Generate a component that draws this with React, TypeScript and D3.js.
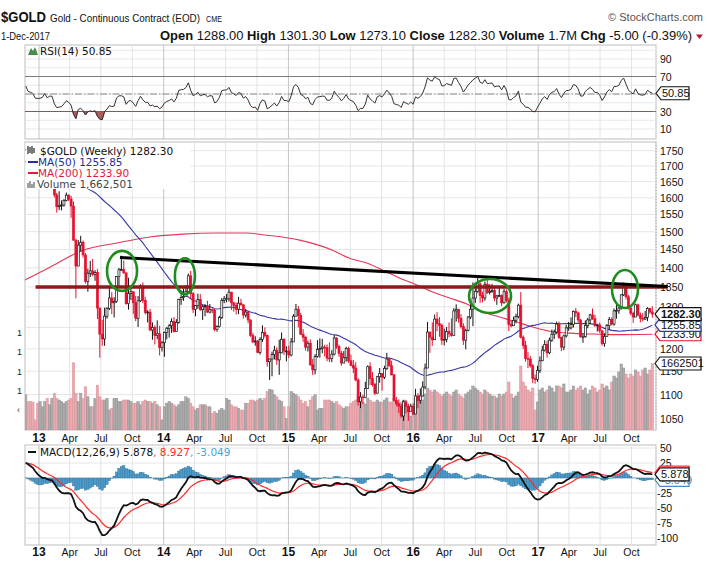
import React from 'react';
import * as d3 from 'd3';

// ---------------- DATA ----------------
// weekly closes before the visible window (Jan-Nov 2012), used only to warm up indicators
const warmupCloses = [1617,1639,1664,1738,1725,1725,1725,1775,1710,1713,1659,1662,1669,1631,1659,1643,1664,1645,1585,1592,1573,1622,1594,1628,1572,1604,1579,1589,1580,1619,1605,1620,1616,1671,1692,1737,1770,1775,1775,1781,1758,1725,1711,1676,1730,1714];

const firstWeek = '2012-11-23';

const closes = [
  1752,1712,1705,1696,1658,1656,
  1657,1662,1687,1657,1667,1667,1609,1573,1576,1578,1592,1608,1596,1575,1476,1405,1462,1470,1435,1364,1386,1392,1383,1388,1297,1234,1223,1277,1296,1322,1310,1313,1377,1395,1396,1387,1308,1333,1338,1310,1272,1315,1352,1316,1286,1287,1244,1250,1231,1235,1203,1214,
  1238,1248,1254,1264,1240,1262,1318,1323,1326,1339,1379,1333,1294,1303,1318,1293,1300,1302,1287,1293,1292,1245,1252,1274,1316,1320,1320,1337,1310,1303,1294,1309,1305,1280,1287,1268,1231,1216,1218,1192,1222,1238,1231,1171,1177,1187,1197,1175,1191,1222,1195,1195,
  1186,1216,1277,1294,1279,1234,1227,1204,1213,1164,1153,1183,1199,1201,1204,1203,1179,1178,1188,1225,1205,1190,1168,1180,1201,1173,1163,1157,1131,1085,1095,1094,1113,1160,1134,1121,1103,1138,1145,1137,1156,1177,1162,1142,1088,1081,1076,1056,1085,1075,1065,1076,
  1060,1097,1088,1097,1116,1157,1239,1227,1221,1270,1259,1255,1220,1222,1240,1235,1231,1290,1294,1272,1252,1220,1243,1275,1294,1322,1339,1358,1328,1322,1357,1336,1339,1341,1322,1327,1328,1310,1338,1316,1257,1254,1267,1276,1304,1227,1208,1178,1177,1162,1134,1132,1152,
  1173,1197,1210,1191,1220,1234,1239,1258,1226,1204,1230,1249,1249,1257,1289,1285,1268,1228,1228,1255,1268,1280,1271,1255,1256,1242,1212,1229,1255,1269,1258,1290,1291,1297,1330,1351,1325,1297,1284,1275,1305,1280,1272,1270,1274,1296,1287.3,1282.3
];

const highs = [
  1755,1755,1723,1724,1700,1671,
  1695,1679,1693,1695,1680,1684,1669,1615,1620,1592,1596,1616,1610,1606,1589,1480,1476,1488,1475,1440,1398,1419,1424,1394,1397,1298,1268,1298,1299,1348,1337,1324,1378,1400,1433,1420,1386,1374,1347,1337,1327,1327,1357,1362,1325,1292,1295,1262,1255,1267,1254,1218,
  1240,1251,1258,1272,1275,1270,1320,1332,1346,1355,1385,1392,1337,1304,1333,1332,1305,1306,1315,1307,1296,1295,1255,1278,1322,1327,1332,1346,1324,1312,1311,1325,1320,1306,1295,1289,1269,1237,1229,1220,1227,1255,1250,1233,1178,1194,1207,1204,1221,1238,1225,1206,
  1207,1225,1282,1307,1302,1285,1246,1229,1219,1222,1177,1188,1220,1224,1223,1209,1210,1215,1197,1232,1227,1210,1196,1195,1205,1205,1187,1175,1170,1135,1105,1100,1127,1163,1170,1148,1125,1140,1157,1143,1162,1191,1180,1173,1144,1095,1090,1081,1088,1089,1081,1081,
  1082,1112,1103,1113,1128,1167,1263,1240,1262,1281,1287,1275,1259,1247,1251,1262,1272,1297,1306,1290,1282,1260,1247,1277,1317,1362,1346,1377,1362,1338,1364,1370,1357,1358,1349,1330,1353,1331,1345,1344,1323,1266,1276,1283,1308,1337,1231,1218,1193,1184,1166,1143,1162,
  1183,1207,1220,1219,1226,1245,1245,1264,1264,1228,1233,1256,1263,1274,1291,1297,1288,1270,1236,1267,1273,1283,1296,1281,1259,1262,1243,1236,1258,1275,1274,1296,1306,1300,1331,1362,1349,1330,1300,1288,1308,1308,1286,1285,1290,1299,1297,1301.3
];

const lows = [
  1712,1705,1684,1690,1636,1649,
  1627,1645,1662,1650,1652,1657,1601,1555,1563,1562,1573,1589,1590,1540,1475,1321,1406,1445,1428,1359,1338,1376,1378,1366,1270,1180,1207,1207,1271,1292,1282,1274,1310,1352,1392,1384,1305,1293,1317,1282,1265,1251,1312,1309,1281,1262,1241,1221,1210,1222,1185,1194,
  1182,1222,1226,1237,1238,1240,1259,1305,1315,1326,1334,1322,1285,1277,1295,1290,1268,1277,1285,1284,1284,1241,1240,1250,1270,1309,1311,1313,1292,1288,1281,1282,1303,1271,1274,1260,1228,1213,1207,1190,1187,1216,1226,1160,1131,1139,1176,1164,1142,1190,1186,1172,
  1179,1183,1218,1277,1250,1232,1216,1196,1194,1162,1142,1143,1180,1180,1190,1183,1172,1170,1170,1185,1200,1182,1162,1170,1171,1168,1161,1146,1128,1077,1072,1080,1094,1112,1120,1117,1099,1102,1125,1108,1133,1153,1160,1141,1085,1076,1062,1052,1046,1061,1046,1065,
  1058,1062,1072,1081,1096,1111,1157,1191,1207,1224,1241,1228,1209,1208,1215,1227,1228,1232,1264,1261,1247,1209,1199,1241,1270,1253,1310,1335,1310,1311,1315,1332,1331,1335,1314,1305,1325,1302,1308,1311,1241,1250,1254,1260,1272,1224,1200,1171,1157,1158,1124,1123,1127,
  1146,1173,1194,1180,1188,1216,1223,1234,1223,1195,1197,1226,1242,1245,1250,1275,1261,1226,1214,1226,1248,1258,1268,1251,1240,1237,1207,1205,1232,1245,1255,1254,1271,1283,1293,1327,1318,1293,1279,1261,1276,1276,1262,1264,1268,1265,1283,1273.1
];

// weekly volume, millions of contracts
const volumes = [
  0.88,0.71,0.71,0.70,0.25,0.67,
  0.71,0.58,0.71,0.79,0.63,0.79,0.92,0.79,0.75,0.71,0.67,0.71,0.75,0.79,1.68,0.92,0.71,0.92,0.79,1.08,0.83,0.58,0.58,0.79,1.12,0.83,0.75,0.75,0.79,0.50,0.54,0.79,0.79,0.71,0.71,0.75,0.75,0.75,0.71,0.67,0.67,0.71,0.63,0.71,0.75,0.71,0.71,0.67,0.71,0.63,0.58,0.25,
  0.58,0.67,0.71,0.67,0.63,0.58,0.63,0.71,0.71,0.83,0.79,0.67,0.58,0.50,0.54,0.63,0.63,0.63,0.58,0.58,0.42,0.46,0.42,0.50,0.54,0.50,0.79,0.75,0.63,0.58,0.58,0.54,0.50,0.50,0.67,0.67,0.75,0.75,0.71,0.75,0.79,0.75,0.79,0.96,1.02,1.00,0.88,0.83,0.75,0.71,0.58,0.29,
  0.58,0.96,0.92,0.88,0.83,0.75,0.67,0.71,0.58,0.75,0.83,0.88,0.50,0.54,0.54,0.75,0.75,0.75,0.71,0.67,0.71,0.63,0.58,0.54,0.58,0.58,0.67,0.71,0.75,0.85,0.80,0.70,0.65,0.80,0.75,0.70,0.70,0.75,0.70,0.70,0.75,0.80,0.70,0.70,0.80,0.70,0.65,0.70,0.75,0.65,0.60,0.35,
  0.40,0.80,0.85,0.80,0.75,0.90,1.05,1.00,0.95,1.00,0.95,0.90,0.85,0.90,0.95,0.90,0.85,0.95,1.00,0.90,0.85,0.80,0.90,0.95,1.00,1.10,1.05,1.00,0.95,0.90,1.00,0.95,0.90,0.85,0.85,0.80,0.90,0.85,0.90,0.95,1.20,0.90,0.80,0.85,0.95,1.60,1.20,1.10,1.00,0.95,1.05,0.50,0.70,
  1.00,1.05,0.95,1.00,1.10,1.05,0.95,1.10,1.10,1.05,1.15,0.95,0.95,1.00,1.10,1.00,1.05,1.10,1.00,1.05,0.90,1.00,1.10,1.05,0.95,1.00,1.15,1.05,1.10,1.00,1.20,1.35,1.30,1.45,1.65,1.55,1.40,1.30,1.40,1.35,1.50,1.45,1.35,1.50,1.55,1.40,1.50,1.66
];

// MA(200)
const ma200Dates = ['2012-11-21','2013-02-02','2013-05-10','2013-08-17','2013-11-22','2014-02-26','2014-06-05','2014-09-01','2014-10-29','2015-02-03','2015-05-10','2015-06-29','2015-08-18','2015-10-04','2015-11-23','2016-01-12','2016-02-27','2016-04-17','2016-06-06','2016-07-23','2016-09-10','2016-10-30','2016-12-16','2017-02-04','2017-03-25','2017-05-11','2017-06-30','2017-08-19','2017-12-01'];
const ma200Values = [1368,1402,1448,1468,1485,1493,1496,1496,1490,1476,1448,1426,1413,1394,1373,1355,1337,1322,1307,1287,1275,1263,1251,1241,1237,1235,1234,1233,1234];

// hand-drawn annotations
const resistanceLevel = 1350;
const resistanceFrom = '2012-12-22';
const resistanceTo = '2018-01-15';
const trendDates = ['2013-08-26', '2018-01-15'];
const trendPrices = [1428, 1351];
const circleDates = ['2013-09-01', '2014-03-04', '2016-08-13', '2017-09-12'];
const circlePrices = [1392, 1378, 1327, 1345];
const circleRx = [15, 10, 21, 13];
const circleRy = [20, 18, 17, 19];

// axes
const priceTicks = [1750,1700,1650,1600,1550,1500,1450,1400,1350,1300,1250,1200,1150,1100,1050];
const priceLabels = [1750,1700,1650,1600,1550,1500,1450,1400,1350,1300,1200,1150,1100,1050];
const rsiTicks = [90,70,30,10];
const macdTicks = [50,25,-25,-50,-75,-100];

// legend / header values
const lastClose = 1282.30, lastMa50 = 1255.85, lastMa200 = 1233.90, lastVolume = 1662501;
const lastRsi = 50.85, lastMacd = 5.878, lastSignal = 8.927, lastHist = -3.049;

// ---------------- HELPERS ----------------
const pd = (s: string) => d3.timeParse('%Y-%m-%d')(s) as Date;

function ema(arr: number[], n: number) {
  const k = 2 / (n + 1);
  let e = arr[0];
  return arr.map((v, i) => (i === 0 ? e : (e = v * k + e * (1 - k))));
}

const L = 25, R = 656;
const RSI_T = 45, RSI_B = 139;
const MAIN_T = 142, MAIN_B = 430;
const MACD_T = 445, MACD_B = 545;

const AX = 'Liberation Sans, Arial, sans-serif';
const LEG = 'DejaVu Sans, Verdana, sans-serif';
const NARROW = 'Liberation Sans Narrow, Arial Narrow, Liberation Sans, sans-serif';

function Tag({ x0, y, text, border, color, w, bold }: any) {
  const h = 6.5;
  return (
    <g>
      <path d={`M${x0},${y}L${x0 + 5},${y - h}L${x0 + w},${y - h}L${x0 + w},${y + h}L${x0 + 5},${y + h}Z`} fill="#fff" stroke={border} strokeWidth={1.2} />
      <text x={x0 + 6} y={y + 4} fontFamily={AX} fontSize={11} fontWeight={bold ? 'bold' : 'normal'} fill={color}>{text}</text>
    </g>
  );
}

export default function App() {
  const n = closes.length;
  const t0 = pd(firstWeek);
  const dates = d3.range(n).map(i => d3.timeDay.offset(t0, 7 * i));
  const x = d3.scaleTime().domain([new Date(2013, 0, 1), new Date(2017, 0, 1)]).range([39, 538.2]);
  const barW = x(new Date(2013, 0, 8)) - x(new Date(2013, 0, 1));

  const yP = d3.scaleLog().domain([1050, 1750]).range([419, 150.7]);
  const yV = d3.scaleLinear().domain([0, 1]).range([MAIN_B, MAIN_B - 40]);
  const yR = d3.scaleLinear().domain([0, 100]).range([137.75, 50.25]);
  const yM = d3.scaleLinear().domain([-100, 50]).range([538, 448]);

  // indicators
  const all = warmupCloses.concat(closes);
  const off = warmupCloses.length;
  const e12 = ema(all, 12), e26 = ema(all, 26);
  const macdAll = all.map((_, i) => e12[i] - e26[i]);
  const sigAll = ema(macdAll, 9);
  const macd = macdAll.slice(off), sig = sigAll.slice(off);
  const hist = macd.map((m, i) => m - sig[i]);

  const rsiAll: number[] = [50];
  let ag = 0, al = 0;
  for (let i = 1; i < all.length; i++) {
    const ch = all[i] - all[i - 1];
    const g = Math.max(ch, 0), l = Math.max(-ch, 0);
    if (i <= 14) { ag += g / 14; al += l / 14; }
    else { ag = (ag * 13 + g) / 14; al = (al * 13 + l) / 14; }
    rsiAll.push(al === 0 ? 100 : 100 - 100 / (1 + ag / al));
  }
  const rsi = rsiAll.slice(off);

  const ma50 = closes.map((_, i) => {
    const j = i + off;
    const s = all.slice(Math.max(0, j - 49), j + 1);
    return d3.mean(s) as number;
  });

  const ticks = d3.timeMonth.every(3)!.range(new Date(2013, 0, 1), new Date(2017, 11, 1));
  const fmtM = d3.timeFormat('%b');

  const rsiLine = d3.line<number>().x((_, i) => x(dates[i])).y(d => yR(d))(rsi) as string;
  const rsiArea = d3.area<number>().x((_, i) => x(dates[i])).y0(yR(30)).y1(d => yR(d))(rsi) as string;
  const ma50Line = d3.line<number>().x((_, i) => x(dates[i])).y(d => yP(d))(ma50) as string;
  const ma200Line = d3.line<number>().curve(d3.curveMonotoneX).x((_, i) => x(pd(ma200Dates[i]))).y(d => yP(d))(ma200Values) as string;
  const macdLine = d3.line<number>().x((_, i) => x(dates[i])).y(d => yM(d))(macd) as string;
  const sigLine = d3.line<number>().x((_, i) => x(dates[i])).y(d => yM(d))(sig) as string;

  const red = '#e6112e';

  const vGrid = (top: number, bot: number) =>
    ticks.map((t, i) => (
      <line key={i} x1={x(t)} x2={x(t)} y1={top} y2={bot} stroke={t.getMonth() === 0 ? '#c4c4c4' : '#e3e3e3'} strokeWidth={1} />
    ));

  const xLabels = (yb: number) =>
    ticks.map((t, i) => (
      <text key={i} x={x(t)} y={yb} textAnchor="middle" fontFamily={AX} fontSize={t.getMonth() === 0 ? 12 : 10.5} fontWeight={t.getMonth() === 0 ? 'bold' : 'normal'} fill="#111">
        {t.getMonth() === 0 ? d3.timeFormat('%y')(t) : fmtM(t)}
      </text>
    ));

  return (
    <svg width={707} height={577} style={{ position: 'absolute', left: 0, top: 0, background: '#fff' }} xmlns="http://www.w3.org/2000/svg">
      <defs>
        <clipPath id="cRsi"><rect x={L} y={RSI_T} width={R - L} height={RSI_B - RSI_T} /></clipPath>
        <clipPath id="cRsiLow"><rect x={L} y={yR(30)} width={R - L} height={RSI_B - yR(30)} /></clipPath>
        <clipPath id="cMain"><rect x={L} y={MAIN_T} width={R - L} height={MAIN_B - MAIN_T} /></clipPath>
        <clipPath id="cMacd"><rect x={L} y={MACD_T} width={R - L} height={MACD_B - MACD_T} /></clipPath>
      </defs>
      <rect x={0} y={0} width={707} height={577} fill="#fff" />

      {/* HEADER */}
      <text x={1} y={22} fontFamily={NARROW} fontSize={15} fontWeight="bold" fill="#111" textLength={45} lengthAdjust="spacingAndGlyphs">$GOLD</text>
      <text x={50} y={22} fontFamily={NARROW} fontSize={10.2} fill="#111" textLength={150} lengthAdjust="spacingAndGlyphs">Gold - Continuous Contract (EOD)</text>
      <text x={206} y={22} fontFamily={NARROW} fontSize={9} fill="#111" textLength={16} lengthAdjust="spacingAndGlyphs">CME</text>
      <text x={703} y={21} textAnchor="end" fontFamily={AX} fontSize={11} fill="#555">© StockCharts.com</text>
      <text x={1} y={40} fontFamily={NARROW} fontSize={10.5} fill="#111" textLength={49} lengthAdjust="spacingAndGlyphs">1-Dec-2017</text>
      <text x={160} y={40} fontFamily={NARROW} fontSize={12} fill="#111" textLength={532} lengthAdjust="spacingAndGlyphs">
        <tspan fontWeight="bold">Open</tspan> 1288.00 <tspan fontWeight="bold">High</tspan> 1301.30 <tspan fontWeight="bold">Low</tspan> 1273.10 <tspan fontWeight="bold">Close</tspan> 1282.30 <tspan fontWeight="bold">Volume</tspan> 1.7M <tspan fontWeight="bold">Chg</tspan> -5.00 (-0.39%)
      </text>
      <path d="M696,34.5L703,34.5L699.5,39Z" fill="#c8102e" />

      {/* RSI PANEL */}
      <rect x={L} y={RSI_T} width={R - L} height={RSI_B - RSI_T} fill="#fff" stroke="#bdbdbd" />
      {d3.range(10, 101, 10).map(v => (
        <line key={v} x1={L} x2={R} y1={yR(v)} y2={yR(v)} stroke="#e8e8e8" />
      ))}
      {vGrid(RSI_T, RSI_B)}
      <line x1={L} x2={R} y1={yR(70)} y2={yR(70)} stroke="#7a7a7a" />
      <line x1={L} x2={R} y1={yR(30)} y2={yR(30)} stroke="#7a7a7a" />
      <line x1={L} x2={R} y1={yR(50)} y2={yR(50)} stroke="#8a8a8a" strokeDasharray="7,2,1.5,2" />
      <g clipPath="url(#cRsi)">
        <path d={rsiArea} clipPath="url(#cRsiLow)" fill="#b15a5a" stroke="#7a2a2a" strokeWidth={0.6} />
        <path d={rsiLine} fill="none" stroke="#333" strokeWidth={1} />
      </g>
      <path d="M28,55L31,48L33,51L35,47L38,55Z" fill="#4a8a4a" />
      <text x={40} y={55} fontFamily={LEG} fontSize={10.5} fill="#111">RSI(14) 50.85</text>
      {rsiTicks.map(v => (
        <text key={v} x={660} y={yR(v) + 4} fontFamily={AX} fontSize={10.5} fill="#111">{v}</text>
      ))}
      <Tag x0={656} y={yR(lastRsi)} text={lastRsi.toFixed(2)} border="#111" color="#111" w={33} />

      {/* MAIN PANEL */}
      <rect x={L} y={MAIN_T} width={R - L} height={MAIN_B - MAIN_T} fill="#fff" stroke="#bdbdbd" />
      {priceTicks.map(v => (
        <line key={v} x1={L} x2={R} y1={yP(v)} y2={yP(v)} stroke="#e6e6e6" />
      ))}
      {vGrid(MAIN_T, MAIN_B)}
      <g clipPath="url(#cMain)">
        {volumes.map((v, i) => {
          const up = i === 0 ? closes[0] >= warmupCloses[warmupCloses.length - 1] : closes[i] >= closes[i - 1];
          return (
            <rect key={i} x={x(dates[i]) - barW / 2} y={yV(v)} width={barW} height={MAIN_B - yV(v)}
              fill={up ? '#acacac' : '#eaabb1'} stroke={up ? '#8e8e8e' : '#d98e96'} strokeWidth={0.5} />
          );
        })}
        <path d={ma200Line} fill="none" stroke="#e8355a" strokeWidth={1.1} />
        <path d={ma50Line} fill="none" stroke="#3535a8" strokeWidth={1.1} />
        {closes.map((c, i) => {
          const o = i === 0 ? warmupCloses[warmupCloses.length - 1] : closes[i - 1];
          const hi = Math.max(highs[i], o, c), lo = Math.min(lows[i], o, c);
          const col = c >= o ? '#111' : red;
          const cx = x(dates[i]);
          const top = yP(Math.max(o, c)), bot = yP(Math.min(o, c));
          return (
            <g key={i}>
              <line x1={cx} x2={cx} y1={yP(hi)} y2={yP(lo)} stroke={col} strokeWidth={1} />
              <rect x={cx - 1} y={top} width={2} height={Math.max(0.8, bot - top)} fill={c >= o ? '#fff' : col} stroke={col} strokeWidth={0.7} />
            </g>
          );
        })}
      </g>
      {/* legend */}
      <rect x={L + 0.5} y={MAIN_T + 1} width={165} height={46} fill="#fff" />
      <path d="M28,146v8M30,147v6M32,146v8M34,148v5" stroke="#222" strokeWidth={1.2} />
      <text x={40} y={155} fontFamily={LEG} fontSize={10.5} fill="#111">$GOLD (Weekly) 1282.30</text>
      <line x1={28} x2={38} y1={162} y2={162} stroke="#2b2ba0" strokeWidth={2} />
      <text x={38} y={166} fontFamily={LEG} fontSize={10.5} fill="#2b2ba0">MA(50) 1255.85</text>
      <line x1={28} x2={38} y1={173} y2={173} stroke="#e01840" strokeWidth={2} />
      <text x={38} y={177} fontFamily={LEG} fontSize={10.5} fill="#e01840">MA(200) 1233.90</text>
      <path d="M28,188v-5M30,188v-7M32,188v-4M34,188v-6" stroke="#777" strokeWidth={1.4} />
      <text x={37} y={188} fontFamily={LEG} fontSize={10.5} fill="#444">Volume 1,662,501</text>

      {/* clipped left-axis remnants */}
      {[333, 352, 372, 391].map(v => (
        <text key={v} x={17} y={v + 3} fontFamily={AX} fontSize={9} fill="#222">1</text>
      ))}
      <text x={17} y={413} fontFamily={AX} fontSize={9} fill="#222">‹</text>

      {/* price axis */}
      <line x1={R} x2={R} y1={MAIN_T} y2={MAIN_B} stroke="#aaa" strokeDasharray="1,2" />
      {priceLabels.map(v => (
        <text key={v} x={660} y={yP(v) + 4} fontFamily={AX} fontSize={10.5} fill="#111">{v}</text>
      ))}

      {/* annotations */}
      <line x1={x(pd(resistanceFrom))} x2={x(pd(resistanceTo))} y1={yP(resistanceLevel)} y2={yP(resistanceLevel)} stroke="#8b1a1a" strokeWidth={3.5} />
      <line x1={x(pd(trendDates[0]))} x2={x(pd(trendDates[1]))} y1={yP(trendPrices[0])} y2={yP(trendPrices[1])} stroke="#000" strokeWidth={3} />
      {circleDates.map((d, i) => (
        <ellipse key={i} cx={x(pd(d))} cy={yP(circlePrices[i])} rx={circleRx[i]} ry={circleRy[i]} fill="none" stroke="#1e8c1e" strokeWidth={2.6} />
      ))}

      {/* tags */}
      <Tag x0={655} y={yP(lastMa200)} text={lastMa200.toFixed(2)} border={red} color="#111" w={46} />
      <Tag x0={655} y={yP(lastMa50)} text={lastMa50.toFixed(2)} border="#3535a8" color="#111" w={46} />
      <Tag x0={655} y={yP(lastClose)} text={lastClose.toFixed(2)} border="#111" color="#111" w={46} bold />
      <Tag x0={655} y={yV(lastVolume / 1e6)} text={String(lastVolume)} border="#111" color="#111" w={46} />

      {xLabels(442)}

      {/* MACD PANEL */}
      <rect x={L} y={MACD_T} width={R - L} height={MACD_B - MACD_T} fill="#fff" stroke="#bdbdbd" />
      {[50, 25, 0, -25, -50, -75, -100].map(v => (
        <line key={v} x1={L} x2={R} y1={yM(v)} y2={yM(v)} stroke="#e6e6e6" />
      ))}
      {vGrid(MACD_T, MACD_B)}
      <g clipPath="url(#cMacd)">
        {hist.map((h, i) => (
          <rect key={i} x={x(dates[i]) - barW / 2} y={Math.min(yM(h), yM(0))} width={barW} height={Math.abs(yM(h) - yM(0))}
            fill="#4b9ccb" stroke="#2a6d99" strokeWidth={0.4} />
        ))}
        <path d={sigLine} fill="none" stroke="#ff2a2a" strokeWidth={1.2} />
        <path d={macdLine} fill="none" stroke="#111" strokeWidth={1.8} />
      </g>
      <line x1={28} x2={36} y1={452} y2={452} stroke="#111" strokeWidth={2} />
      <text x={40} y={456} fontFamily={LEG} fontSize={10.5} fill="#111">
        MACD(12,26,9) 5.878<tspan fill="#ff2a2a">, 8.927</tspan><tspan fill="#4aa3d8">, -3.049</tspan>
      </text>
      {macdTicks.map(v => (
        <text key={v} x={v < 0 ? 657 : 660} y={yM(v) + 4} fontFamily={AX} fontSize={10.5} fill="#111">{v}</text>
      ))}
      <Tag x0={655} y={yM(lastHist)} text={lastHist.toFixed(3)} border="#4a8ac0" color="#4a8ac0" w={34} />
      <Tag x0={655} y={yM(lastSignal)} text={lastSignal.toFixed(3)} border="#ff2a2a" color="#111" w={34} />
      <Tag x0={655} y={yM(lastMacd)} text={lastMacd.toFixed(3)} border="#111" color="#111" w={34} />

      {xLabels(556)}
    </svg>
  );
}
